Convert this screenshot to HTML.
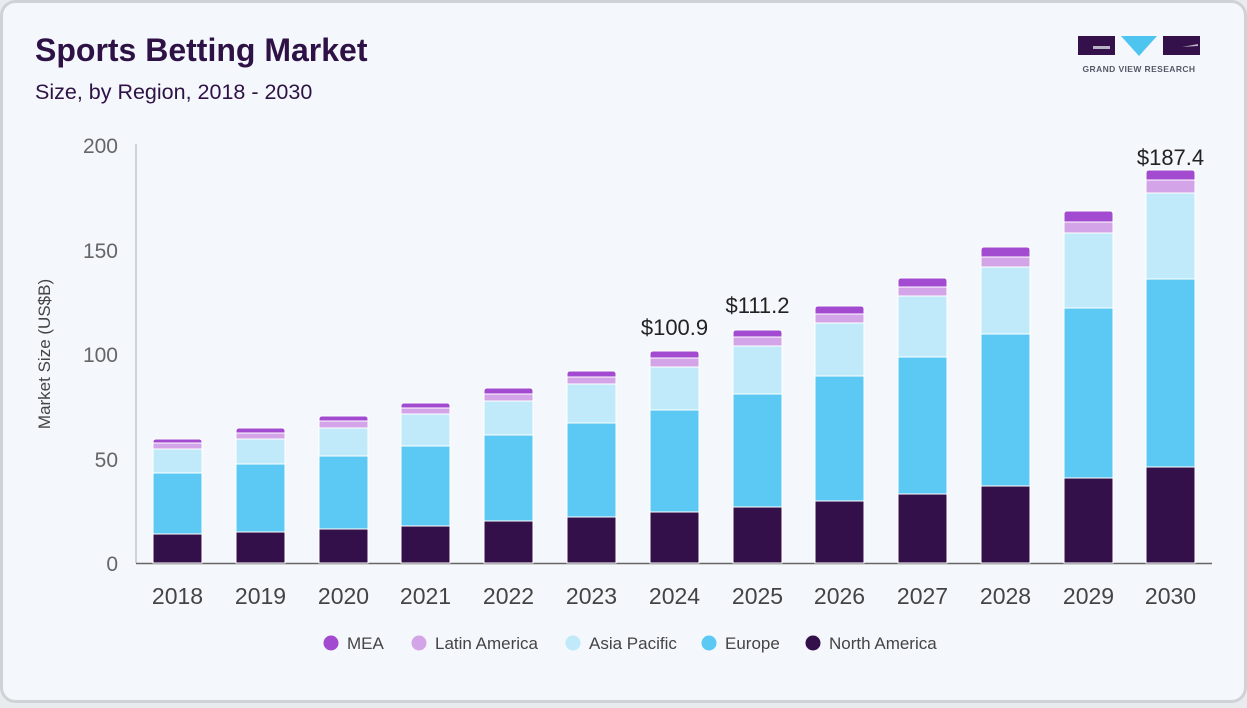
<!DOCTYPE html>
<html><head><meta charset="utf-8"><style>
html,body{margin:0;padding:0;background:#e9ecef;}
body{width:1247px;height:703px;overflow:hidden;font-family:"Liberation Sans",sans-serif;}
</style></head><body>
<svg width="1247" height="703" xmlns="http://www.w3.org/2000/svg" font-family="Liberation Sans, sans-serif">
<rect x="1.5" y="1.5" width="1244" height="700" rx="14" fill="#f4f7fb" stroke="#cfd3d7" stroke-width="3"/>
<text x="35" y="61" font-size="32" font-weight="bold" fill="#2e1245">Sports Betting Market</text>
<text x="35" y="99" font-size="21.5" fill="#2e1245">Size, by Region, 2018 - 2030</text>
<!-- logo -->
<rect x="1078" y="36" width="37" height="19" fill="#35114b"/>
<path d="M1093 46 H1110 V49 H1093 Z" fill="#f4f7fb" opacity="0.7"/>
<polygon points="1121,36 1157,36 1139,56" fill="#4ec4f1"/>
<rect x="1163" y="36" width="37" height="19" fill="#35114b"/>
<path d="M1182 47 L1198 44 L1198 46 Z" fill="#f4f7fb" opacity="0.7"/>
<text x="1139" y="72" font-size="8.5" font-weight="bold" fill="#555a66" text-anchor="middle" letter-spacing="0.4">GRAND VIEW RESEARCH</text>
<!-- axes -->
<line x1="136" y1="144" x2="136" y2="563" stroke="#c4c7cc" stroke-width="1.5"/>
<line x1="136" y1="563.5" x2="1212" y2="563.5" stroke="#666" stroke-width="1.5"/>
<g font-size="21" fill="#666" text-anchor="end">
<text x="118" y="153">200</text><text x="118" y="258">150</text><text x="118" y="362">100</text><text x="118" y="467">50</text><text x="118" y="571">0</text>
</g>
<text transform="translate(50,354) rotate(-90)" font-size="17" fill="#444" text-anchor="middle">Market Size (US$B)</text>
<g stroke="#ffffff" stroke-width="1">
<g transform="translate(153,0)"><rect y="534" width="49" height="29" fill="#34104a"/><rect y="473" width="49" height="61" fill="#5bc9f3"/><rect y="449" width="49" height="24" fill="#c0e9f9"/><rect y="443" width="49" height="6" fill="#d3a4e8"/><path d="M0 443 V442 Q0 439 3 439 H46 Q49 439 49 442 V443 Z" fill="#a24bd1"/></g>
<g transform="translate(236,0)"><rect y="532" width="49" height="31" fill="#34104a"/><rect y="464" width="49" height="68" fill="#5bc9f3"/><rect y="439" width="49" height="25" fill="#c0e9f9"/><rect y="433" width="49" height="6" fill="#d3a4e8"/><path d="M0 433 V431 Q0 428 3 428 H46 Q49 428 49 431 V433 Z" fill="#a24bd1"/></g>
<g transform="translate(319,0)"><rect y="529" width="49" height="34" fill="#34104a"/><rect y="456" width="49" height="73" fill="#5bc9f3"/><rect y="428" width="49" height="28" fill="#c0e9f9"/><rect y="421" width="49" height="7" fill="#d3a4e8"/><path d="M0 421 V419 Q0 416 3 416 H46 Q49 416 49 419 V421 Z" fill="#a24bd1"/></g>
<g transform="translate(401,0)"><rect y="526" width="49" height="37" fill="#34104a"/><rect y="446" width="49" height="80" fill="#5bc9f3"/><rect y="414" width="49" height="32" fill="#c0e9f9"/><rect y="408" width="49" height="6" fill="#d3a4e8"/><path d="M0 408 V406 Q0 403 3 403 H46 Q49 403 49 406 V408 Z" fill="#a24bd1"/></g>
<g transform="translate(484,0)"><rect y="521" width="49" height="42" fill="#34104a"/><rect y="435" width="49" height="86" fill="#5bc9f3"/><rect y="401" width="49" height="34" fill="#c0e9f9"/><rect y="394" width="49" height="7" fill="#d3a4e8"/><path d="M0 394 V391 Q0 388 3 388 H46 Q49 388 49 391 V394 Z" fill="#a24bd1"/></g>
<g transform="translate(567,0)"><rect y="517" width="49" height="46" fill="#34104a"/><rect y="423" width="49" height="94" fill="#5bc9f3"/><rect y="384" width="49" height="39" fill="#c0e9f9"/><rect y="377" width="49" height="7" fill="#d3a4e8"/><path d="M0 377 V374 Q0 371 3 371 H46 Q49 371 49 374 V377 Z" fill="#a24bd1"/></g>
<g transform="translate(650,0)"><rect y="512" width="49" height="51" fill="#34104a"/><rect y="410" width="49" height="102" fill="#5bc9f3"/><rect y="367" width="49" height="43" fill="#c0e9f9"/><rect y="358" width="49" height="9" fill="#d3a4e8"/><path d="M0 358 V354 Q0 351 3 351 H46 Q49 351 49 354 V358 Z" fill="#a24bd1"/></g>
<g transform="translate(733,0)"><rect y="507" width="49" height="56" fill="#34104a"/><rect y="394" width="49" height="113" fill="#5bc9f3"/><rect y="346" width="49" height="48" fill="#c0e9f9"/><rect y="337" width="49" height="9" fill="#d3a4e8"/><path d="M0 337 V333 Q0 330 3 330 H46 Q49 330 49 333 V337 Z" fill="#a24bd1"/></g>
<g transform="translate(815,0)"><rect y="501" width="49" height="62" fill="#34104a"/><rect y="376" width="49" height="125" fill="#5bc9f3"/><rect y="323" width="49" height="53" fill="#c0e9f9"/><rect y="314" width="49" height="9" fill="#d3a4e8"/><path d="M0 314 V309 Q0 306 3 306 H46 Q49 306 49 309 V314 Z" fill="#a24bd1"/></g>
<g transform="translate(898,0)"><rect y="494" width="49" height="69" fill="#34104a"/><rect y="357" width="49" height="137" fill="#5bc9f3"/><rect y="296" width="49" height="61" fill="#c0e9f9"/><rect y="287" width="49" height="9" fill="#d3a4e8"/><path d="M0 287 V281 Q0 278 3 278 H46 Q49 278 49 281 V287 Z" fill="#a24bd1"/></g>
<g transform="translate(981,0)"><rect y="486" width="49" height="77" fill="#34104a"/><rect y="334" width="49" height="152" fill="#5bc9f3"/><rect y="267" width="49" height="67" fill="#c0e9f9"/><rect y="257" width="49" height="10" fill="#d3a4e8"/><path d="M0 257 V250 Q0 247 3 247 H46 Q49 247 49 250 V257 Z" fill="#a24bd1"/></g>
<g transform="translate(1064,0)"><rect y="478" width="49" height="85" fill="#34104a"/><rect y="308" width="49" height="170" fill="#5bc9f3"/><rect y="233" width="49" height="75" fill="#c0e9f9"/><rect y="222" width="49" height="11" fill="#d3a4e8"/><path d="M0 222 V214 Q0 211 3 211 H46 Q49 211 49 214 V222 Z" fill="#a24bd1"/></g>
<g transform="translate(1146,0)"><rect y="467" width="49" height="96" fill="#34104a"/><rect y="279" width="49" height="188" fill="#5bc9f3"/><rect y="193" width="49" height="86" fill="#c0e9f9"/><rect y="180" width="49" height="13" fill="#d3a4e8"/><path d="M0 180 V173 Q0 170 3 170 H46 Q49 170 49 173 V180 Z" fill="#a24bd1"/></g>
</g>
<g font-size="22" fill="#222" text-anchor="middle">
<text x="674.5" y="335">$100.9</text><text x="757.5" y="313">$111.2</text><text x="1170.5" y="165">$187.4</text>
</g>
<g font-size="23" fill="#444" text-anchor="middle">
<text x="177.5" y="604">2018</text><text x="260.5" y="604">2019</text><text x="343.5" y="604">2020</text><text x="425.5" y="604">2021</text><text x="508.5" y="604">2022</text><text x="591.5" y="604">2023</text><text x="674.5" y="604">2024</text><text x="757.5" y="604">2025</text><text x="839.5" y="604">2026</text><text x="922.5" y="604">2027</text><text x="1005.5" y="604">2028</text><text x="1088.5" y="604">2029</text><text x="1170.5" y="604">2030</text>
</g>
<g font-size="17" fill="#444">
<circle cx="331" cy="643" r="7.5" fill="#a24bd1"/><text x="347" y="649">MEA</text>
<circle cx="419" cy="643" r="7.5" fill="#d3a4e8"/><text x="435" y="649">Latin America</text>
<circle cx="573" cy="643" r="7.5" fill="#c0e9f9"/><text x="589" y="649">Asia Pacific</text>
<circle cx="709" cy="643" r="7.5" fill="#5bc9f3"/><text x="725" y="649">Europe</text>
<circle cx="813" cy="643" r="7.5" fill="#34104a"/><text x="829" y="649">North America</text>
</g>
</svg>
</body></html>
